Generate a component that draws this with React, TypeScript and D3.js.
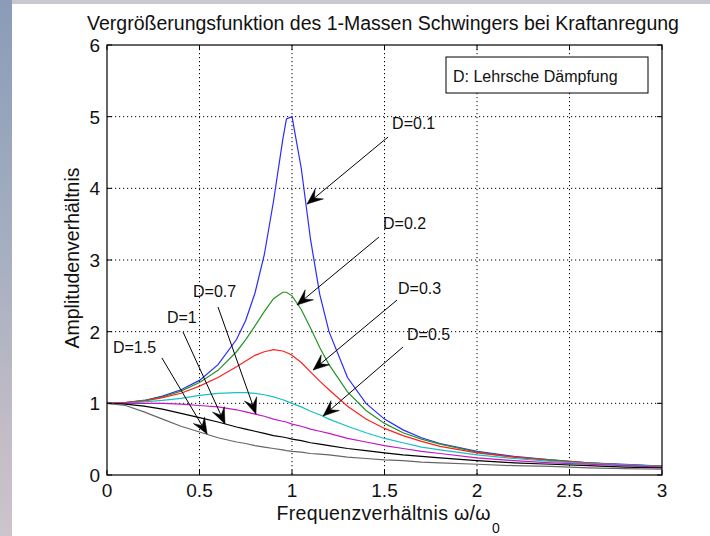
import React from "react";
import * as d3 from "d3";

// ---- data ----
const eta = [0, 0.1, 0.2, 0.3, 0.4, 0.5, 0.6, 0.7, 0.75, 0.8, 0.85, 0.9, 0.95, 0.97, 1.0, 1.05, 1.1, 1.15, 1.2, 1.3, 1.4, 1.5, 1.6, 1.7, 1.8, 2.0, 2.2, 2.4, 2.6, 2.8, 3.0];

const vD01 = [1, 1.01, 1.04, 1.10, 1.19, 1.32, 1.54, 1.89, 2.16, 2.54, 3.07, 3.82, 4.68, 4.97, 5.0, 4.28, 3.29, 2.52, 2.0, 1.36, 1.0, 0.78, 0.63, 0.52, 0.44, 0.33, 0.26, 0.21, 0.17, 0.15, 0.125];
const vD02 = [1, 1.01, 1.04, 1.09, 1.17, 1.29, 1.46, 1.72, 1.89, 2.08, 2.28, 2.46, 2.55, 2.55, 2.5, 2.31, 2.05, 1.78, 1.54, 1.16, 0.9, 0.72, 0.59, 0.5, 0.43, 0.32, 0.25, 0.21, 0.17, 0.14, 0.124];
const vD03 = [1, 1.01, 1.03, 1.08, 1.14, 1.24, 1.36, 1.51, 1.59, 1.67, 1.72, 1.75, 1.73, 1.71, 1.67, 1.57, 1.44, 1.31, 1.19, 0.96, 0.78, 0.65, 0.55, 0.47, 0.4, 0.31, 0.25, 0.2, 0.17, 0.14, 0.122];
const vD05 = [1, 1.0, 1.02, 1.04, 1.07, 1.11, 1.14, 1.15, 1.15, 1.14, 1.12, 1.09, 1.05, 1.03, 1.0, 0.95, 0.89, 0.84, 0.78, 0.68, 0.59, 0.51, 0.45, 0.39, 0.35, 0.28, 0.23, 0.19, 0.16, 0.14, 0.117];
const vD07 = [1, 1.0, 1.0, 1.0, 0.99, 0.97, 0.95, 0.91, 0.88, 0.85, 0.82, 0.78, 0.75, 0.74, 0.71, 0.68, 0.64, 0.61, 0.58, 0.51, 0.46, 0.41, 0.37, 0.33, 0.3, 0.24, 0.2, 0.17, 0.15, 0.13, 0.11];
const vD10 = [1, 0.99, 0.96, 0.92, 0.86, 0.8, 0.74, 0.67, 0.64, 0.61, 0.58, 0.55, 0.53, 0.52, 0.5, 0.48, 0.45, 0.43, 0.41, 0.37, 0.34, 0.31, 0.28, 0.26, 0.24, 0.2, 0.17, 0.15, 0.13, 0.11, 0.1];
const vD15 = [1, 0.97, 0.88, 0.78, 0.68, 0.6, 0.52, 0.46, 0.44, 0.41, 0.39, 0.37, 0.35, 0.34, 0.33, 0.32, 0.3, 0.29, 0.28, 0.25, 0.23, 0.21, 0.2, 0.18, 0.17, 0.15, 0.13, 0.12, 0.1, 0.09, 0.08];

const seriesNames = ["D=0.1", "D=0.2", "D=0.3", "D=0.5", "D=0.7", "D=1", "D=1.5"];
const seriesValues = [vD01, vD02, vD03, vD05, vD07, vD10, vD15];
const seriesColors = ["#2a2aff", "#259425", "#ff2020", "#18c0c0", "#c418c4", "#000000", "#666666"];

const xTicks = [0, 0.5, 1, 1.5, 2, 2.5, 3];
const yTicks = [0, 1, 2, 3, 4, 5, 6];
const xTickLabels = ["0", "0.5", "1", "1.5", "2", "2.5", "3"];
const yTickLabels = ["0", "1", "2", "3", "4", "5", "6"];

// annotations in data units: label text anchor, arrow start, arrow tip
const annotLabels = ["D=0.1", "D=0.2", "D=0.3", "D=0.5", "D=0.7", "D=1", "D=1.5"];
const annotText = [[1.541, 4.83], [1.492, 3.43], [1.573, 2.525], [1.622, 1.884], [0.465, 2.484], [0.324, 2.12], [0.032, 1.70]];
const annotStart = [[1.519, 4.716], [1.470, 3.32], [1.568, 2.442], [1.60, 1.786], [0.60, 2.344], [0.411, 1.995], [0.297, 1.632]];
const annotTip = [[1.081, 3.78], [1.027, 2.372], [1.114, 1.465], [1.168, 0.823], [0.805, 0.851], [0.638, 0.712], [0.541, 0.572]];

const titleText = "Vergrößerungsfunktion des 1-Massen Schwingers bei Kraftanregung";
const xLabelText = "Frequenzverhältnis ω/ω";
const yLabelText = "Amplitudenverhältnis";
const legendText = "D: Lehrsche Dämpfung";

const W = 710, H = 536;
const L = 107, R = 662, T = 45, B = 475;
const FONT = "'Liberation Sans', Arial, Helvetica, sans-serif";

export default function App() {
  const x = d3.scaleLinear().domain([0, 3]).range([L, R]);
  const y = d3.scaleLinear().domain([0, 6]).range([B, T]);
  const line = d3.line<[number, number]>().x(d => x(d[0])).y(d => y(d[1]));

  const arrowHead = (x1: number, y1: number, x2: number, y2: number) => {
    const ang = Math.atan2(y2 - y1, x2 - x1);
    const len = 16, wid = 6.5;
    const c = Math.cos(ang), s = Math.sin(ang);
    const pt = (a: number, b: number) => [x2 - a * c - b * s, y2 - a * s + b * c];
    const p1 = pt(len, wid), p2 = pt(len * 0.6, 0), p3 = pt(len, -wid);
    return `M${x2},${y2}L${p1[0]},${p1[1]}L${p2[0]},${p2[1]}L${p3[0]},${p3[1]}Z`;
  };

  return (
    <svg width={W} height={H} style={{ position: "absolute", left: 0, top: 0, fontFamily: FONT }}>
      <defs>
        <linearGradient id="bgL" x1="0" y1="0" x2="0" y2="1">
          <stop offset="0" stopColor="#8a9cb8" />
          <stop offset="0.45" stopColor="#a4aec0" />
          <stop offset="0.8" stopColor="#c2bcc6" />
          <stop offset="1" stopColor="#cdc4cc" />
        </linearGradient>
        <clipPath id="plotClip">
          <rect x={L} y={T} width={R - L} height={B - T} />
        </clipPath>
      </defs>
      <rect x={0} y={0} width={W} height={H} fill="#ffffff" />
      <rect x={0} y={0} width={W} height={4} fill="#c9c8d0" />
      <rect x={0} y={0} width={12} height={H} fill="url(#bgL)" />

      {/* grid */}
      {xTicks.slice(1, -1).map(t => (
        <line key={"gx" + t} x1={x(t)} x2={x(t)} y1={T} y2={B} stroke="#000" strokeWidth={1} strokeDasharray="1.2,2.8" />
      ))}
      {yTicks.slice(1, -1).map(t => (
        <line key={"gy" + t} x1={L} x2={R} y1={y(t)} y2={y(t)} stroke="#000" strokeWidth={1} strokeDasharray="1.2,2.8" />
      ))}

      {/* curves */}
      <g clipPath="url(#plotClip)">
        {seriesValues.map((vals, i) => (
          <path key={seriesNames[i]} d={line(eta.map((e, j) => [e, vals[j]] as [number, number])) || ""}
            fill="none" stroke={seriesColors[i]} strokeWidth={1.2} />
        ))}
      </g>

      {/* axes box + ticks */}
      <rect x={L} y={T} width={R - L} height={B - T} fill="none" stroke="#000" strokeWidth={1.2} />
      {xTicks.map(t => (
        <g key={"tx" + t}>
          <line x1={x(t)} x2={x(t)} y1={B} y2={B - 5} stroke="#000" />
          <line x1={x(t)} x2={x(t)} y1={T} y2={T + 5} stroke="#000" />
        </g>
      ))}
      {yTicks.map(t => (
        <g key={"ty" + t}>
          <line x1={L} x2={L + 5} y1={y(t)} y2={y(t)} stroke="#000" />
          <line x1={R} x2={R - 5} y1={y(t)} y2={y(t)} stroke="#000" />
        </g>
      ))}
      {xTicks.map((t, i) => (
        <text key={"lx" + t} x={x(t)} y={497} textAnchor="middle" fontSize={19} fill="#111">{xTickLabels[i]}</text>
      ))}
      {yTicks.map((t, i) => (
        <text key={"ly" + t} x={100} y={y(t) + 7} textAnchor="end" fontSize={19} fill="#111">{yTickLabels[i]}</text>
      ))}

      {/* title and labels */}
      <text x={(82 + 684) / 2} y={30} textAnchor="middle" fontSize={19.5} fill="#111">{titleText}</text>
      <text x={276.5} y={520} fontSize={19.5} fill="#111" textLength={214}>{xLabelText}</text>
      <text x={492} y={533} fontSize={14} fill="#111">0</text>
      <text transform={`translate(79,${(T + B) / 2 - 2}) rotate(-90)`} textAnchor="middle" fontSize={19.5} fill="#111">{yLabelText}</text>

      {/* legend textbox */}
      <rect x={446} y={57} width={202} height={36} fill="#fff" stroke="#000" strokeWidth={1} />
      <text x={453} y={82} fontSize={16} fill="#111">{legendText}</text>

      {/* annotations */}
      {annotLabels.map((lab, i) => {
        const tx = x(annotText[i][0]), ty = y(annotText[i][1]);
        const sx = x(annotStart[i][0]), sy = y(annotStart[i][1]);
        const ex = x(annotTip[i][0]), ey = y(annotTip[i][1]);
        return (
          <g key={"an" + i}>
            <text x={tx} y={ty} fontSize={16} fill="#111">{lab}</text>
            <line x1={sx} y1={sy} x2={ex} y2={ey} stroke="#000" strokeWidth={1} />
            <path d={arrowHead(sx, sy, ex, ey)} fill="#000" stroke="#000" strokeWidth={0.5} />
          </g>
        );
      })}
    </svg>
  );
}
